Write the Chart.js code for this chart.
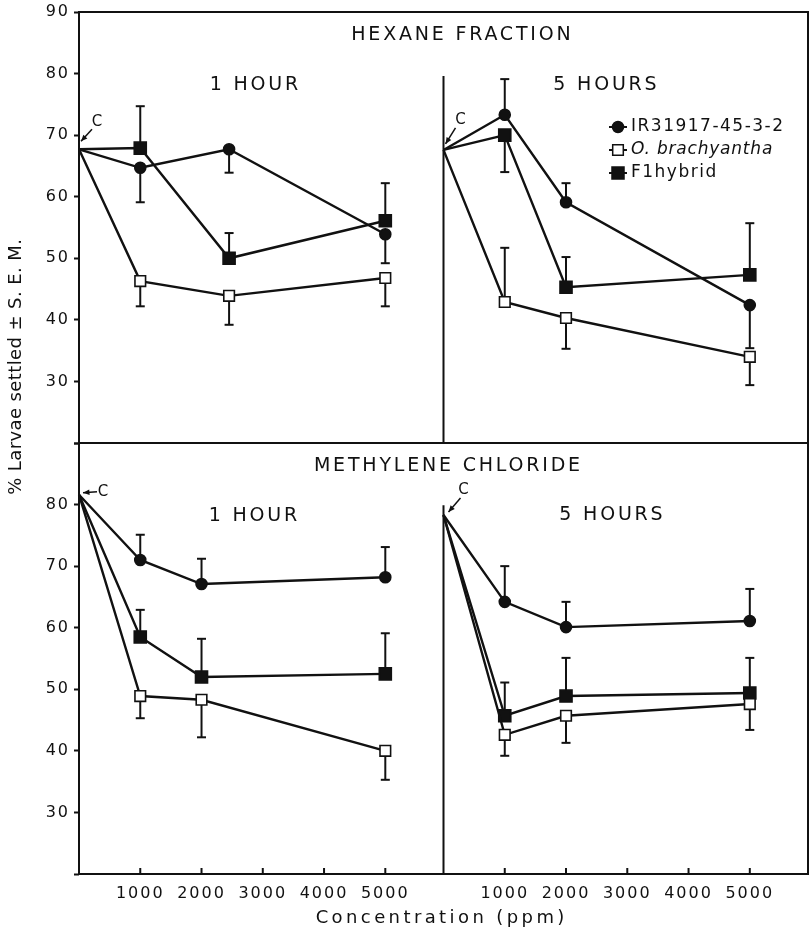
<!DOCTYPE html>
<html>
<head>
<meta charset="utf-8">
<script src="https://cdn.jsdelivr.net/npm/chart.js"></script>
<style>
  body { margin: 0; background: #fff; }
  #wrap { width: 811px; height: 934px; }
</style>
</head>
<body>
<div id="wrap"><canvas id="larvae" width="811" height="934"></canvas></div>
<script>
// series names, in legend order
const seriesNames = ['IR31917-45-3-2', 'O. brachyantha', 'F1hybrid'];

// concentrations (ppm); first point is the control
const concHexane1h = [0, 1000, 2450, 5000];
const concStandard = [0, 1000, 2000, 5000];

// % larvae settled. sem: signed S.E.M. (sign = side the bar is drawn on)
const hexane1hIR = [67.7, 64.7, 67.7, 53.9];
const hexane1hIRsem = [0, -5.6, -3.8, -4.7];
const hexane1hOB = [67.7, 46.3, 43.9, 46.8];
const hexane1hOBsem = [0, -4.1, -4.7, -4.6];
const hexane1hF1 = [67.7, 67.9, 50.0, 56.1];
const hexane1hF1sem = [0, 6.8, 4.1, 6.1];

const hexane5hIR = [67.6, 73.3, 59.1, 42.4];
const hexane5hIRsem = [0, 5.8, 3.1, -7.0];
const hexane5hOB = [67.6, 42.9, 40.3, 34.0];
const hexane5hOBsem = [0, 8.8, -5.0, -4.6];
const hexane5hF1 = [67.6, 70.0, 45.3, 47.3];
const hexane5hF1sem = [0, -6.0, 4.9, 8.4];

const methylene1hIR = [81.6, 71.0, 67.1, 68.2];
const methylene1hIRsem = [0, 4.1, 4.1, 4.9];
const methylene1hOB = [81.6, 48.9, 48.3, 40.0];
const methylene1hOBsem = [0, -3.6, -6.1, -4.7];
const methylene1hF1 = [81.6, 58.5, 52.0, 52.5];
const methylene1hF1sem = [0, 4.4, 6.2, 6.6];

const methylene5hIR = [78.3, 64.2, 60.1, 61.1];
const methylene5hIRsem = [0, 5.8, 4.1, 5.2];
const methylene5hOB = [78.3, 42.6, 45.7, 47.6];
const methylene5hOBsem = [0, -3.4, -4.4, -4.2];
const methylene5hF1 = [78.3, 45.7, 48.9, 49.4];
const methylene5hF1sem = [0, 5.4, 6.2, 5.7];

// tick labels
const concTicks = [1000, 2000, 3000, 4000, 5000];
const pctTicks = [20, 30, 40, 50, 60, 70, 80, 90];
const topPctLabels = [30, 40, 50, 60, 70, 80, 90];
const bottomPctLabels = [30, 40, 50, 60, 70, 80];

const INK = '#111';
const FONT = "'DejaVu Sans', sans-serif";

const panels = [
  { xAxis: 'xL', yAxis: 'yTop', conc: concHexane1h,
    values: [hexane1hIR, hexane1hOB, hexane1hF1], sem: [hexane1hIRsem, hexane1hOBsem, hexane1hF1sem],
    cMark: { label: [18, -27], from: [13, -20], to: [2, -8] } },
  { xAxis: 'xR', yAxis: 'yTop', conc: concStandard,
    values: [hexane5hIR, hexane5hOB, hexane5hF1], sem: [hexane5hIRsem, hexane5hOBsem, hexane5hF1sem],
    cMark: { label: [17, -30], from: [12, -22], to: [2, -6] } },
  { xAxis: 'xL', yAxis: 'yBot', conc: concStandard,
    values: [methylene1hIR, methylene1hOB, methylene1hF1], sem: [methylene1hIRsem, methylene1hOBsem, methylene1hF1sem],
    cMark: { label: [24, -3], from: [18, -3], to: [4, -2] } },
  { xAxis: 'xR', yAxis: 'yBot', conc: concStandard,
    values: [methylene5hIR, methylene5hOB, methylene5hF1], sem: [methylene5hIRsem, methylene5hOBsem, methylene5hF1sem],
    cMark: { label: [20, -25], from: [17, -17], to: [5, -3] } }
];

const seriesStyle = [
  { pointStyle: 'circle', radius: 5.5, fill: INK },
  { pointStyle: 'rect', radius: 7.5, fill: '#fff' },
  { pointStyle: 'rect', radius: 8.5, fill: INK }
];

const titles = [
  { text: 'HEXANE FRACTION', x: 461, y: 35 },
  { text: '1 HOUR', x: 254, y: 85 },
  { text: '5 HOURS', x: 605, y: 85 },
  { text: 'METHYLENE CHLORIDE', x: 447, y: 466 },
  { text: '1 HOUR', x: 253, y: 516 },
  { text: '5 HOURS', x: 611, y: 515 }
];

const datasets = [];
panels.forEach(p => {
  p.values.forEach((vals, s) => {
    const st = seriesStyle[s];
    datasets.push({
      label: seriesNames[s],
      data: p.conc.map((c, i) => ({ x: c, y: vals[i] })),
      sem: p.sem[s],
      xAxisID: p.xAxis,
      yAxisID: p.yAxis,
      borderColor: INK,
      borderWidth: 2.4,
      tension: 0,
      fill: false,
      pointStyle: st.pointStyle,
      pointRadius: ctx => ctx.dataIndex === 0 ? 0 : st.radius,
      pointBackgroundColor: st.fill,
      pointBorderColor: INK,
      pointBorderWidth: 1.6,
      clip: false
    });
  });
});

function text(ctx, str, x, y, size, spacing, style) {
  ctx.save();
  ctx.font = (style || '') + ' ' + size + 'px ' + FONT;
  ctx.letterSpacing = spacing + 'px';
  ctx.fillStyle = INK;
  ctx.textAlign = 'center';
  ctx.textBaseline = 'middle';
  ctx.fillText(str, x + spacing / 2, y);
  ctx.restore();
}

function line(ctx, x1, y1, x2, y2) {
  ctx.beginPath();
  ctx.moveTo(x1, y1);
  ctx.lineTo(x2, y2);
  ctx.stroke();
}

const errorBars = {
  id: 'errorBars',
  beforeDatasetsDraw(chart) {
    const ctx = chart.ctx;
    ctx.save();
    ctx.strokeStyle = INK;
    ctx.lineWidth = 2;
    chart.data.datasets.forEach(ds => {
      const xs = chart.scales[ds.xAxisID];
      const ys = chart.scales[ds.yAxisID];
      ds.data.forEach((pt, i) => {
        const e = ds.sem[i];
        if (!e) return;
        const x = xs.getPixelForValue(pt.x);
        const y0 = ys.getPixelForValue(pt.y);
        const y1 = ys.getPixelForValue(pt.y + e);
        line(ctx, x, y0, x, y1);
        line(ctx, x - 4.5, y1, x + 4.5, y1);
      });
    });
    ctx.restore();
  }
};

const spacing = {
  id: 'spacing',
  beforeDraw(chart) { chart.ctx.letterSpacing = '2px'; },
  afterDraw(chart) { chart.ctx.letterSpacing = '0px'; }
};

const frame = {
  id: 'frame',
  afterDraw(chart) {
    const ctx = chart.ctx;
    const { left, right, top, bottom } = chart.chartArea;
    const { xL, xR, yTop, yBot } = chart.scales;
    ctx.save();
    ctx.strokeStyle = INK;
    ctx.lineWidth = 2;
    ctx.strokeRect(left, top, right - left, bottom - top);
    line(ctx, left, yTop.bottom, right, yTop.bottom);
    line(ctx, xL.right, yTop.getPixelForValue(79.6), xL.right, yTop.bottom);
    line(ctx, xL.right, yBot.getPixelForValue(79.9), xL.right, yBot.bottom);
    [xL, xR].forEach(s => {
      concTicks.forEach(v => {
        const x = s.getPixelForValue(v);
        line(ctx, x, bottom, x, bottom - 6);
      });
    });

    // control markers "C" with arrows
    ctx.fillStyle = INK;
    ctx.lineWidth = 1.5;
    panels.forEach(p => {
      const cx = chart.scales[p.xAxis].getPixelForValue(p.conc[0]);
      const cy = chart.scales[p.yAxis].getPixelForValue(p.values[0][0]);
      const m = p.cMark;
      text(ctx, 'C', cx + m.label[0], cy + m.label[1], 15, 0);
      const x1 = cx + m.from[0], y1 = cy + m.from[1];
      const x2 = cx + m.to[0], y2 = cy + m.to[1];
      line(ctx, x1, y1, x2, y2);
      const a = Math.atan2(y2 - y1, x2 - x1);
      ctx.beginPath();
      ctx.moveTo(x2, y2);
      ctx.lineTo(x2 - 7 * Math.cos(a - 0.4), y2 - 7 * Math.sin(a - 0.4));
      ctx.lineTo(x2 - 7 * Math.cos(a + 0.4), y2 - 7 * Math.sin(a + 0.4));
      ctx.closePath();
      ctx.fill();
    });

    titles.forEach(t => text(ctx, t.text, t.x, t.y, 19, 2.8));

    // legend
    seriesNames.forEach((name, s) => {
      const st = seriesStyle[s];
      const y = 127 + s * 23;
      ctx.lineWidth = 2;
      line(ctx, 609, y, 627, y);
      ctx.fillStyle = st.fill;
      ctx.lineWidth = 1.5;
      ctx.beginPath();
      if (st.pointStyle === 'circle') {
        ctx.arc(618, y, 5.5, 0, Math.PI * 2);
      } else {
        const h = st.radius * Math.SQRT1_2;
        ctx.rect(618 - h, y - h, 2 * h, 2 * h);
      }
      ctx.fill();
      ctx.stroke();
      ctx.save();
      ctx.font = (s === 1 ? 'italic ' : '') + '17px ' + FONT;
      ctx.letterSpacing = s === 1 ? '0.8px' : '1.5px';
      ctx.fillStyle = INK;
      ctx.textAlign = 'left';
      ctx.textBaseline = 'middle';
      ctx.fillText(name, 631, y);
      ctx.restore();
    });

    // axis titles
    text(ctx, 'Concentration (ppm)', 440, 918, 18, 3.4);
    ctx.save();
    ctx.translate(16, 367);
    ctx.rotate(-Math.PI / 2);
    text(ctx, '% Larvae settled \u00b1 S. E. M.', 0, 0, 18, 0.4);
    ctx.restore();
    ctx.restore();
  }
};

function concAxis() {
  return {
    type: 'linear',
    position: 'bottom',
    stack: 'conc',
    stackWeight: 1,
    min: 0,
    max: 5950,
    afterBuildTicks: s => { s.ticks = concTicks.map(v => ({ value: v })); },
    afterFit: s => {
      s.height = 60;
      s.paddingLeft = 0;
      s.paddingRight = 0;
    },
    grid: { display: false, drawTicks: false },
    border: { display: false },
    ticks: { padding: 10, color: INK, font: { size: 16 }, maxRotation: 0, autoSkip: false,
      callback: v => String(v) }
  };
}

function pctAxis(labels, weight) {
  return {
    type: 'linear',
    position: 'left',
    stack: 'pct',
    stackWeight: 1,
    weight: weight,
    min: 20,
    max: 90,
    afterBuildTicks: s => { s.ticks = pctTicks.map(v => ({ value: v })); },
    afterFit: s => {
      s.width = 79;
      s.paddingTop = 0;
      s.paddingBottom = 0;
    },
    grid: { display: true, drawOnChartArea: false, drawTicks: true, tickLength: 5, tickWidth: 2, color: INK },
    border: { display: false },
    ticks: { padding: 4, color: INK, font: { size: 16 }, autoSkip: false,
      callback: v => labels.includes(v) ? String(v) : '' }
  };
}

Chart.defaults.font.family = FONT;

new Chart(document.getElementById('larvae'), {
  type: 'line',
  data: { datasets: datasets },
  options: {
    responsive: false,
    animation: false,
    devicePixelRatio: 1,
    layout: { autoPadding: false, padding: { top: 12, right: 3, left: 0, bottom: 0 } },
    plugins: { legend: { display: false }, tooltip: { enabled: false } },
    scales: {
      xL: concAxis(),
      xR: concAxis(),
      yTop: pctAxis(topPctLabels, 2),
      yBot: pctAxis(bottomPctLabels, 1)
    }
  },
  plugins: [spacing, errorBars, frame]
});
</script>
</body>
</html>
